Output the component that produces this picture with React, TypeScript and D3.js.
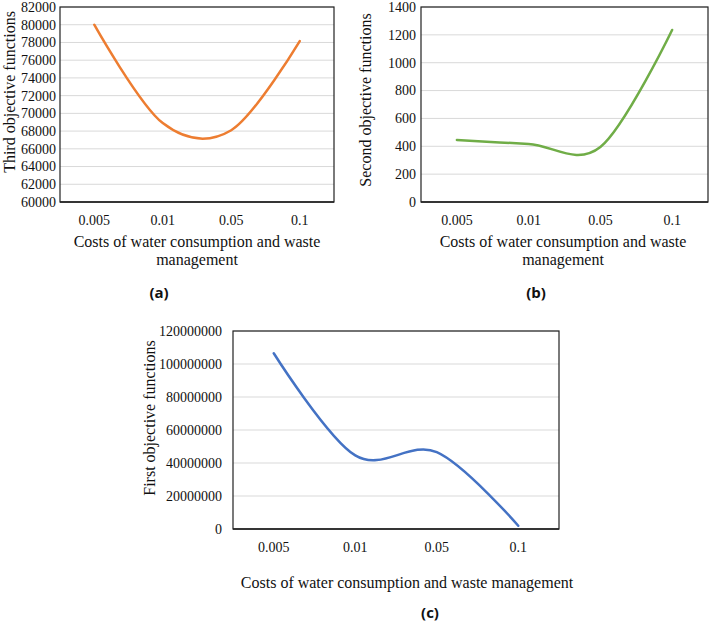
import * as d3 from "d3";

const categories = ["0.005", "0.01", "0.05", "0.1"];

// (a) third objective
const thirdValues = [80000, 68900, 68100, 78150];
const thirdTicks = d3.range(60000, 82001, 2000);

// (b) second objective
const secondValues = [445, 417, 395, 1235];
const secondTicks = d3.range(0, 1401, 200);

// (c) first objective
const firstValues = [106500000, 44600000, 46600000, 2000000];
const firstTicks = d3.range(0, 120000001, 20000000);

const serif = "'Liberation Serif', 'Times New Roman', serif";

type PanelProps = {
  box: [number, number, number, number]; // left, top, right, bottom
  values: number[];
  ticks: number[];
  color: string;
  tickGap: number;
  yTitle: string;
  yTitlePos: [number, number];
  xTitle: string[];
  xTitleX: number;
  xTitleY: number;
  tag: string;
  tagPos: [number, number];
};

const Panel = ({ box, values, ticks, color, tickGap, yTitle, yTitlePos, xTitle, xTitleX, xTitleY, tag, tagPos }: PanelProps) => {
  const [left, top, right, bottom] = box;
  const x = d3.scaleBand().domain(categories).range([left, right]).padding(0);
  const y = d3
    .scaleLinear()
    .domain([ticks[0], ticks[ticks.length - 1]])
    .range([bottom, top]);
  const cx = (c: string) => (x(c) ?? 0) + x.bandwidth() / 2;

  const line = d3
    .line<number>()
    .x((_, i) => cx(categories[i]))
    .y((v) => y(v))
    .curve(d3.curveCardinal.tension(0));

  return (
    <g>
      {/* gridlines */}
      {ticks.map((t) => (
        <line key={t} x1={left} x2={right} y1={y(t)} y2={y(t)} stroke="#d9d9d9" strokeWidth={1} />
      ))}
      {/* plot frame */}
      <rect x={left} y={top} width={right - left} height={bottom - top} fill="none" stroke="#222" strokeWidth={1.2} />
      <line x1={left} x2={right} y1={bottom} y2={bottom} stroke="#222" strokeWidth={1.6} />

      {/* y tick labels */}
      {ticks.map((t) => (
        <text key={t} x={left - tickGap} y={y(t)} dy="0.35em" textAnchor="end" fontFamily={serif} fontSize={14} fill="#111">
          {t}
        </text>
      ))}
      {/* x tick labels */}
      {categories.map((c) => (
        <text key={c} x={cx(c)} y={bottom + 23} textAnchor="middle" fontFamily={serif} fontSize={14} fill="#111">
          {c}
        </text>
      ))}

      {/* series */}
      <path d={line(values) ?? ""} fill="none" stroke={color} strokeWidth={2.5} strokeLinecap="round" />

      {/* titles */}
      <text
        transform={`translate(${yTitlePos[0]},${yTitlePos[1]}) rotate(-90)`}
        textAnchor="middle"
        dy="0.35em"
        fontFamily={serif}
        fontSize={16}
        fill="#111"
      >
        {yTitle}
      </text>
      {xTitle.map((s, i) => (
        <text key={i} x={xTitleX} y={xTitleY + i * 18} textAnchor="middle" fontFamily={serif} fontSize={16} fill="#111">
          {s}
        </text>
      ))}
      <text
        x={tagPos[0]}
        y={tagPos[1]}
        dy="0.35em"
        textAnchor="middle"
        fontFamily="'Open Sans', 'DejaVu Sans', sans-serif"
        fontWeight="bold"
        fontSize={15}
        fill="#111"
      >
        {tag}
      </text>
    </g>
  );
};

export default function App() {
  return (
    <svg width={709} height={626} style={{ position: "absolute", left: 0, top: 0, background: "#fff" }}>
      <rect width={709} height={626} fill="#fff" />
      <Panel
        box={[60, 7, 334, 202]}
        values={thirdValues}
        ticks={thirdTicks}
        color="#ED7D31"
        tickGap={4}
        yTitle="Third objective functions"
        yTitlePos={[9, 92]}
        xTitle={["Costs of water consumption and waste", "management"]}
        xTitleX={197}
        xTitleY={247}
        tag="(a)"
        tagPos={[159, 293]}
      />
      <Panel
        box={[421, 7, 708, 202]}
        values={secondValues}
        ticks={secondTicks}
        color="#70AD47"
        tickGap={5}
        yTitle="Second objective functions"
        yTitlePos={[365, 100]}
        xTitle={["Costs of water consumption and waste", "management"]}
        xTitleX={563}
        xTitleY={247}
        tag="(b)"
        tagPos={[536, 293]}
      />
      <Panel
        box={[233, 331, 559, 529]}
        values={firstValues}
        ticks={firstTicks}
        color="#4472C4"
        tickGap={11}
        yTitle="First objective functions"
        yTitlePos={[149, 418]}
        xTitle={["Costs of water consumption and waste management"]}
        xTitleX={407}
        xTitleY={588}
        tag="(c)"
        tagPos={[430, 613]}
      />
    </svg>
  );
}
